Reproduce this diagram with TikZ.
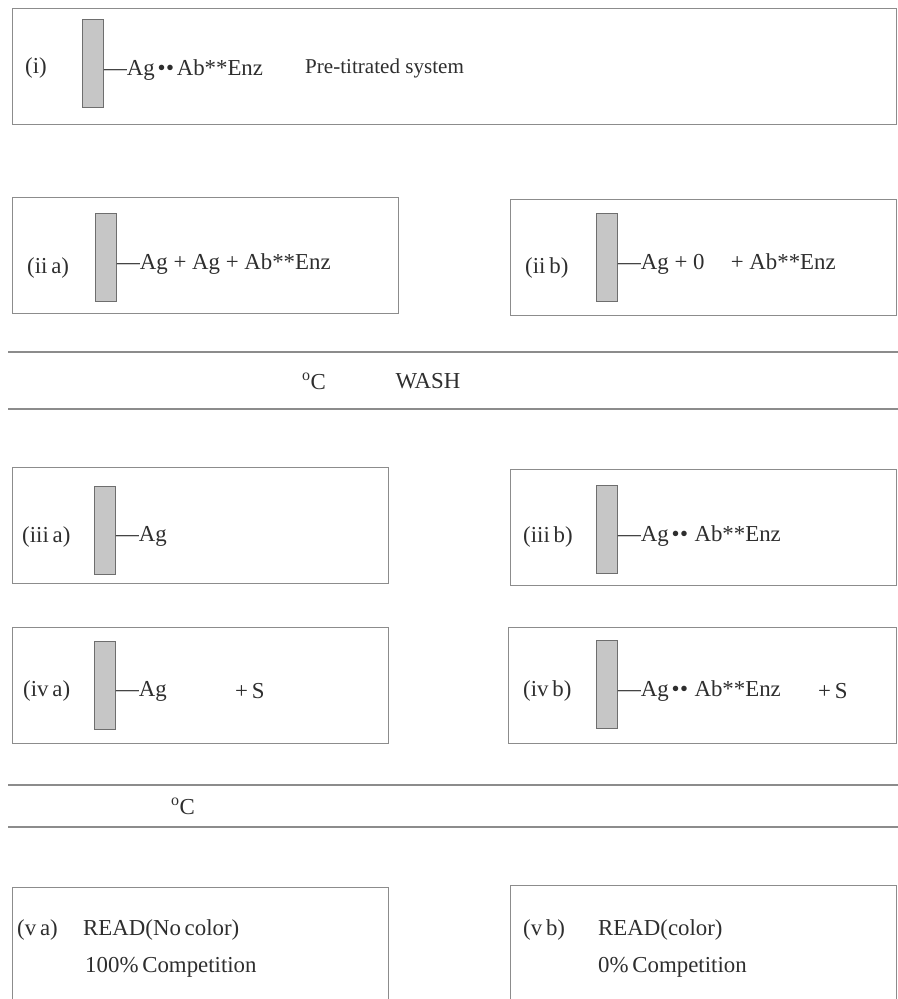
\documentclass[tikz,border=0pt]{standalone}
\usepackage{fontspec}
\setmainfont{Liberation Serif}
\usepackage{tikz}
\usetikzlibrary{positioning}
\definecolor{linegray}{HTML}{8C8C8C}
\definecolor{inkgray}{HTML}{2E2E2E}
\definecolor{stripfill}{HTML}{C6C6C6}
\definecolor{stripline}{HTML}{6E6E6E}
\tikzstyle{panel} = [rectangle, draw=linegray, line width=0.9pt, anchor=north west, inner sep=0pt, minimum width=115.8mm, minimum height=34.8mm]
\tikzstyle{strip} = [rectangle, draw=stripline, fill=stripfill, line width=0.6pt, minimum width=6.3mm, minimum height=26.4mm, inner sep=0pt]
\tikzstyle{tag} = [anchor=west, inner sep=0pt, text=inkgray]
\tikzstyle{chem} = [anchor=west, inner sep=0pt, text=inkgray, yshift=-2mm]
\tikzstyle{band} = [draw=linegray, line width=0.9pt]
\newcommand{\bondpair}{\kern0.12em\textbullet\kern0.02em\textbullet\kern0.12em}
\newcommand{\degC}{\textsuperscript{o}C}

\begin{document}
\begin{tikzpicture}[x=0.3mm, y=-0.3mm, font=\fontsize{19.5}{23}\selectfont]
        \clip (0,0) rectangle (898,999);

        % (i) pre-titrated system
        \node (pI) [panel, minimum width=265.2mm] at (12,8) {};
        \node (lI) [tag] at (25,68) {(i)};
        \node (sI) [strip] at (93,63) {};
        \node (cI) [chem, right=0pt of sI] {---Ag\bondpair Ab**Enz};
        \node (nI) [tag, font=\fontsize{18}{22}\selectfont] at (305,68) {Pre-titrated system};

        % (ii a) / (ii b)
        \node (pIIa) [panel] at (12,197) {};
        \node (lIIa) [tag] at (27,268) {(ii\,a)};
        \node (sIIa) [strip] at (106,257) {};
        \node (cIIa) [chem, right=0pt of sIIa] {---Ag + Ag + Ab**Enz};

        \node (pIIb) [panel] at (510,199) {};
        \node (lIIb) [tag] at (525,268) {(ii\,b)};
        \node (sIIb) [strip] at (607,257) {};
        \node (cIIb) [chem, right=0pt of sIIb] {---Ag + 0\hspace{0.9em} + Ab**Enz};

        % wash step
        \draw [band] (8,352) -- (898,352);
        \draw [band] (8,409) -- (898,409);
        \node (tW) [text=inkgray] at (314,381) {\degC};
        \node (wW) [text=inkgray] at (428,381) {WASH};

        % (iii a) / (iii b)
        \node (pIIIa) [panel, minimum width=112.8mm] at (12,467) {};
        \node (lIIIa) [tag] at (22,537) {(iii\,a)};
        \node (sIIIa) [strip] at (105,530) {};
        \node (cIIIa) [chem, right=0pt of sIIIa] {---Ag};

        \node (pIIIb) [panel] at (510,469) {};
        \node (lIIIb) [tag] at (523,537) {(iii\,b)};
        \node (sIIIb) [strip] at (607,529) {};
        \node (cIIIb) [chem, right=0pt of sIIIb] {---Ag\bondpair\,Ab**Enz};

        % (iv a) / (iv b)
        \node (pIVa) [panel, minimum width=112.8mm] at (12,627) {};
        \node (lIVa) [tag] at (23,691) {(iv\,a)};
        \node (sIVa) [strip] at (105,685) {};
        \node (cIVa) [chem, right=0pt of sIVa] {---Ag};
        \node (xIVa) [tag] at (235,691) {+\,S};

        \node (pIVb) [panel, minimum width=116.4mm] at (508,627) {};
        \node (lIVb) [tag] at (523,691) {(iv\,b)};
        \node (sIVb) [strip] at (607,684) {};
        \node (cIVb) [chem, right=0pt of sIVb] {---Ag\bondpair\,Ab**Enz};
        \node (xIVb) [tag] at (818,691) {+\,S};

        % incubation
        \draw [band] (8,785) -- (898,785);
        \draw [band] (8,827) -- (898,827);
        \node (tR) [text=inkgray] at (183,806) {\degC};

        % (v a) / (v b)
        \node (pVa) [panel, minimum width=112.8mm, minimum height=38mm] at (12,887) {};
        \node (lVa) [tag] at (17,930) {(v\,a)};
        \node (rVa) [tag] at (83,930) {READ(No\,color)};
        \node (qVa) [tag] at (85,967) {100\%\,Competition};

        \node (pVb) [panel, minimum height=38mm] at (510,885) {};
        \node (lVb) [tag] at (523,930) {(v\,b)};
        \node (rVb) [tag] at (598,930) {READ(color)};
        \node (qVb) [tag] at (598,967) {0\%\,Competition};
    \end{tikzpicture}
\end{document}
